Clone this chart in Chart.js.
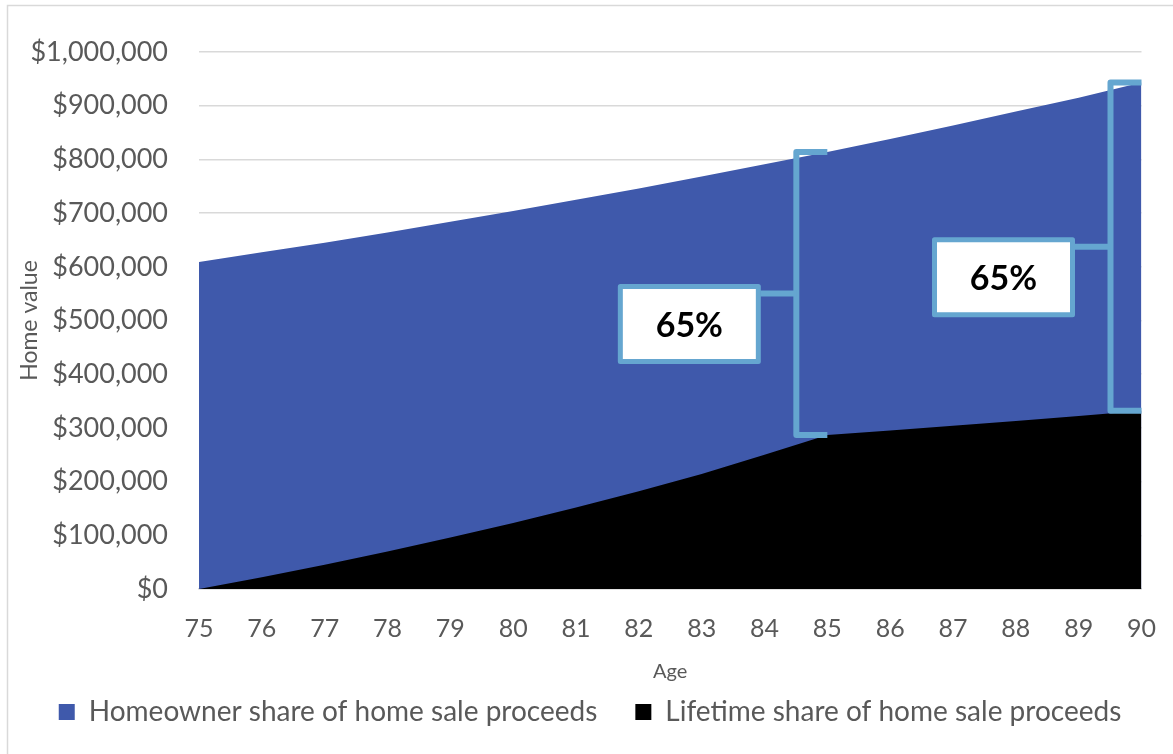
<!DOCTYPE html>
<html>
<head>
<meta charset="utf-8">
<script src="https://cdn.jsdelivr.net/npm/chart.js@4.4.0/dist/chart.umd.min.js"></script>
<style>
  body { margin: 0; background: #fff; }
  #wrap { width: 1173px; height: 754px; }
</style>
</head>
<body>
<div id="wrap"><canvas id="homeChart" width="1173" height="754"></canvas></div>
<script>
const ages = ['75','76','77','78','79','80','81','82','83','84','85','86','87','88','89','90'];
const homeValue = [609000, 627000, 645000, 664000, 684000, 704000, 725000, 746000, 768000, 791000, 814000, 838000, 863000, 889000, 915000, 943000];
const lifetimeShare = [0, 22000, 45000, 70000, 96000, 123000, 152000, 182000, 214000, 250000, 287000, 295000, 304000, 313000, 322000, 332000];
const bracketIndex = [10, 15];
const bracketLabels = ['65%', '65%'];

const textColor = '#595959';
const bracketColor = '#65A6D0';

// light frame of the chart (top and left edges only show)
const framePlugin = {
  id: 'frame',
  beforeDraw(chart) {
    const ctx = chart.ctx;
    ctx.save();
    ctx.strokeStyle = '#d9d9d9';
    ctx.lineWidth = 1.5;
    ctx.beginPath();
    ctx.moveTo(7.5, 754);
    ctx.lineTo(7.5, 5.5);
    ctx.lineTo(1173, 5.5);
    ctx.stroke();
    ctx.restore();
  }
};

// the legend box is narrowed by the right padding, nudge it back to the middle
const legendShift = {
  id: 'legendShift',
  afterLayout(chart) {
    chart.legend.left += 16;
    chart.legend.right += 16;
  }
};

// brackets with the 65% boxes
const bracketPlugin = {
  id: 'brackets',
  afterDatasetsDraw(chart) {
    const ctx = chart.ctx;
    const x = chart.scales.x;
    const y = chart.scales.y;
    ctx.save();
    for (let i = 0; i < bracketIndex.length; i++) {
      const idx = bracketIndex[i];
      const tickEnd = x.getPixelForValue(idx);
      const vx = tickEnd - 31;
      const topY = y.getPixelForValue(homeValue[idx]);
      const botY = y.getPixelForValue(lifetimeShare[idx]);
      const midY = (topY + botY) / 2;

      ctx.strokeStyle = bracketColor;
      ctx.lineWidth = 6;
      ctx.lineJoin = 'round';
      ctx.lineCap = 'butt';
      ctx.beginPath();
      ctx.moveTo(tickEnd, topY);
      ctx.lineTo(vx, topY);
      ctx.lineTo(vx, botY);
      ctx.lineTo(tickEnd, botY);
      ctx.stroke();
      ctx.beginPath();
      ctx.moveTo(vx, midY);
      ctx.lineTo(vx - 36, midY);
      ctx.stroke();

      const bw = 138, bh = 75;
      const bx = vx - 38 - bw;
      const by = midY - 7;
      ctx.fillStyle = '#ffffff';
      ctx.fillRect(bx, by, bw, bh);
      ctx.lineWidth = 5;
      ctx.strokeRect(bx, by, bw, bh);

      ctx.fillStyle = '#000000';
      ctx.font = 'bold 34px Lato';
      ctx.textAlign = 'center';
      ctx.textBaseline = 'middle';
      ctx.fillText(bracketLabels[i], bx + bw / 2, by + bh / 2 + 2);
    }
    ctx.restore();
  }
};

const ctx = document.getElementById('homeChart').getContext('2d');
const chart = new Chart(ctx, {
  type: 'line',
  data: {
    labels: ages,
    datasets: [{
      label: 'Homeowner share of home sale proceeds',
      data: homeValue,
      backgroundColor: '#3F59AB',
      borderColor: '#3F59AB',
      borderWidth: 0,
      pointRadius: 0,
      fill: 'origin',
      order: 2
    }, {
      label: 'Lifetime share of home sale proceeds',
      data: lifetimeShare,
      backgroundColor: '#000000',
      borderColor: '#000000',
      borderWidth: 0,
      pointRadius: 0,
      fill: 'origin',
      order: 1
    }]
  },
  options: {
    responsive: false,
    animation: false,
    layout: {
      padding: { top: 52, right: 25, bottom: 18, left: 0 }
    },
    scales: {
      x: {
        type: 'category',
        offset: false,
        grid: { display: false },
        border: { color: '#d9d9d9', width: 1.5 },
        ticks: {
          color: textColor,
          font: { family: 'Lato', size: 25 },
          padding: 17,
          maxRotation: 0,
          autoSkip: false
        },
        title: {
          display: true,
          text: 'Age',
          color: textColor,
          font: { family: 'Lato', size: 20 },
          padding: { top: 0, bottom: -24 }
        },
        afterFit(scale) { scale.height = 71; }
      },
      y: {
        min: 0,
        max: 1000000,
        grid: { color: '#d9d9d9', lineWidth: 1.5, drawTicks: false },
        border: { display: false },
        ticks: {
          stepSize: 100000,
          color: textColor,
          font: { family: 'Lato', size: 27 },
          padding: 31,
          callback: function(value) {
            return '$' + Number(value).toLocaleString('en-US');
          }
        },
        title: {
          display: true,
          text: 'Home value',
          color: textColor,
          font: { family: 'Lato', size: 23 },
          padding: { top: 16, bottom: 0 }
        },
        afterFit(scale) { scale.width = 199; }
      }
    },
    plugins: {
      legend: {
        position: 'bottom',
        labels: {
          color: textColor,
          font: { family: 'Lato', size: 28 },
          boxWidth: 16,
          boxHeight: 16,
          padding: 38,
          sort: (a, b) => a.datasetIndex - b.datasetIndex
        }
      },
      tooltip: { enabled: false }
    }
  },
  plugins: [framePlugin, legendShift, bracketPlugin]
});
</script>
</body>
</html>
